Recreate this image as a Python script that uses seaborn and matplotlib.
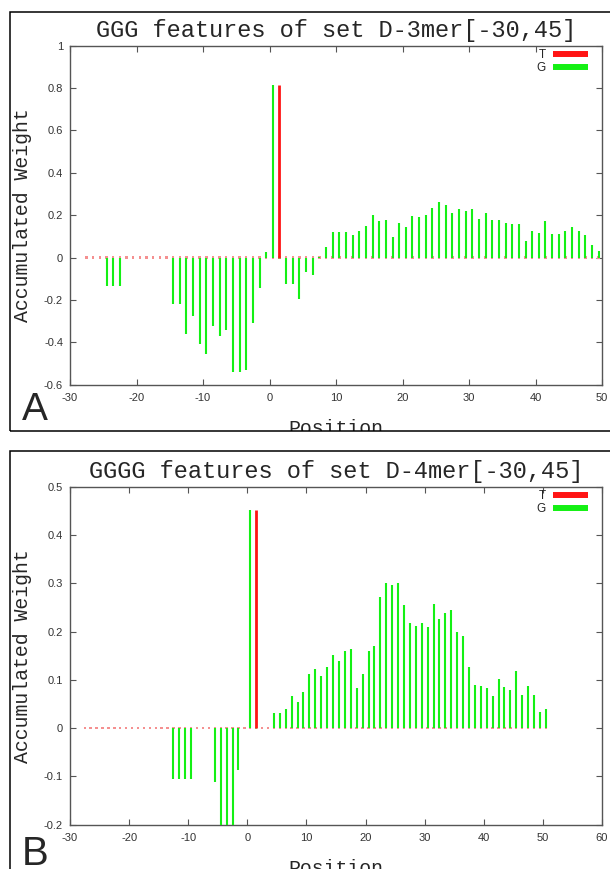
import matplotlib
matplotlib.use("Agg")
import matplotlib.pyplot as plt
import matplotlib.ticker as mticker
from matplotlib.patches import Rectangle
from matplotlib.lines import Line2D
import pandas as pd
import seaborn as sns

sns.set_style("ticks")
plt.rcParams['font.family'] = ['Liberation Sans', 'DejaVu Sans']

# impulse positions (half-integer grid)
pos_a = [-27.5 + i for i in range(78)]   # -27.5 .. 49.5
pos_b = [-27.5 + i for i in range(79)]   # -27.5 .. 50.5

# panel A: GGG, G series
g_a = [
    0, 0, 0, -0.134, -0.134, -0.134,                                        # -27.5 .. -22.5
    0, 0, 0, 0, 0, 0, 0,                                                    # -21.5 .. -15.5
    -0.22, -0.22, -0.363, -0.274, -0.406, -0.456, -0.324, -0.368, -0.343,   # -14.5 .. -6.5
    -0.542, -0.538, -0.531, -0.307, -0.143, 0.025, 0.815, 0,                # -5.5 .. 1.5
    -0.126, -0.126, -0.195, -0.066, -0.082, 0.003, 0.05,                    # 2.5 .. 8.5
    0.121, 0.121, 0.121, 0.105, 0.124, 0.151, 0.2, 0.173, 0.178, 0.099,     # 9.5 .. 18.5
    0.164, 0.142, 0.198, 0.19, 0.2, 0.236, 0.264, 0.25, 0.212, 0.23,        # 19.5 .. 28.5
    0.222, 0.231, 0.182, 0.209, 0.178, 0.175, 0.165, 0.159, 0.16, 0.08,     # 29.5 .. 38.5
    0.127, 0.116, 0.173, 0.11, 0.112, 0.124, 0.146, 0.126, 0.108, 0.06,     # 39.5 .. 48.5
    0.03,                                                                   # 49.5
]
# panel A: T series (only one non-zero value, at 1.5)
t_a = [0.815 if p == 1.5 else 0 for p in pos_a]

# panel B: GGGG, G series
g_b = [
    0, 0, 0, 0, 0, 0, 0, 0, 0, 0, 0, 0, 0, 0, 0,                            # -27.5 .. -13.5
    -0.105, -0.105, -0.105, -0.105,                                         # -12.5 .. -9.5
    0, 0, 0,                                                                # -8.5 .. -6.5
    -0.111, -0.2, -0.2, -0.2, -0.086, 0, 0.451, 0,                          # -5.5 .. 1.5
    0, 0,                                                                   # 2.5, 3.5
    0.032, 0.032, 0.040, 0.066, 0.054,                                      # 4.5 .. 8.5
    0.074, 0.113, 0.122, 0.107, 0.127, 0.151, 0.138, 0.160, 0.164, 0.084,   # 9.5 .. 18.5
    0.112, 0.159, 0.169, 0.271, 0.301, 0.297, 0.301, 0.255, 0.218, 0.212,   # 19.5 .. 28.5
    0.218, 0.209, 0.256, 0.225, 0.238, 0.245, 0.198, 0.190, 0.127, 0.090,   # 29.5 .. 38.5
    0.088, 0.083, 0.067, 0.101, 0.085, 0.078, 0.119, 0.068, 0.087, 0.068,   # 39.5 .. 48.5
    0.034, 0.040,                                                           # 49.5, 50.5
]
t_b = [0.451 if p == 1.5 else 0 for p in pos_b]

xticks_a = [-30, -20, -10, 0, 10, 20, 30, 40, 50]
yticks_a = [-0.6, -0.4, -0.2, 0, 0.2, 0.4, 0.6, 0.8, 1]
xticks_b = [-30, -20, -10, 0, 10, 20, 30, 40, 50, 60]
yticks_b = [-0.2, -0.1, 0, 0.1, 0.2, 0.3, 0.4, 0.5]

RED = '#ff1414'
GREEN = '#14f014'
AXC = '#555555'
W, H = 610, 869


def draw_panel(ax, pos, g, t, title, xticks, yticks):
    df = pd.concat([
        pd.DataFrame({'position': pos, 'weight': g, 'feature': 'G'}),
        pd.DataFrame({'position': pos, 'weight': t, 'feature': 'T'}),
    ])
    # zero-height impulses show up as small dots on the baseline
    zeros = df[df['weight'] == 0]
    sns.scatterplot(data=zeros, x='position', y='weight', hue='feature',
                    palette={'G': '#80f080', 'T': '#f59090'}, marker='s',
                    s=3, linewidth=0, legend=False, ax=ax, zorder=2)
    gg = df[(df['feature'] == 'G') & (df['weight'] != 0)]
    tt = df[(df['feature'] == 'T') & (df['weight'] != 0)]
    ax.vlines(gg['position'], 0, gg['weight'], color=GREEN, lw=1.5, zorder=3)
    ax.vlines(tt['position'], 0, tt['weight'], color=RED, lw=2.0, zorder=3)

    ax.set_xlim(xticks[0], xticks[-1])
    ax.set_ylim(yticks[0], yticks[-1])
    ax.set_xticks(xticks)
    ax.set_yticks(yticks)
    ax.xaxis.set_major_formatter(mticker.FormatStrFormatter('%g'))
    ax.yaxis.set_major_formatter(mticker.FormatStrFormatter('%g'))
    ax.tick_params(direction='in', length=4, width=0.8, color=AXC,
                   labelsize=8, labelcolor='#333333', top=True, right=True)
    ax.tick_params(axis='x', pad=6)
    ax.tick_params(axis='y', pad=5)
    for s in ax.spines.values():
        s.set_color(AXC)
        s.set_linewidth(1.0)
    ax.set_xlabel('')
    ax.set_ylabel('')
    ax.set_title(title, family='Liberation Mono', fontsize=17, pad=6.5)

    handles = [Line2D([], [], color=RED, lw=4.3, solid_capstyle='butt'),
               Line2D([], [], color=GREEN, lw=4.3, solid_capstyle='butt')]
    ax.legend(handles, ['T', 'G'], loc='upper right', bbox_to_anchor=(0.974, 0.99),
              markerfirst=False, frameon=False, fontsize=8.5, handlelength=3.0,
              handletextpad=0.6, labelspacing=0.1, borderpad=0, borderaxespad=0)


fig = plt.figure(figsize=(W / 100, H / 100), dpi=100)

ax_a = fig.add_axes([70 / W, (H - 384.7) / H, 532 / W, 339 / H])
ax_b = fig.add_axes([70 / W, (H - 824.7) / H, 532 / W, 338.1 / H])

draw_panel(ax_a, pos_a, g_a, t_a, 'GGG features of set D-3mer[-30,45]', xticks_a, yticks_a)
draw_panel(ax_b, pos_b, g_b, t_b, 'GGGG features of set D-4mer[-30,45]', xticks_b, yticks_b)

mono = dict(family='Liberation Mono', fontsize=14.3)
for top, bot, base in [(45.7, 384.7, 433.5), (486.6, 824.7, 873.5)]:
    fig.text(23 / W, 1 - (top + bot) / 2 / H, 'Accumulated Weight', rotation=90,
             ha='center', va='center', **mono)
    fig.text(335.5 / W, 1 - base / H, 'Position', ha='center', va='baseline',
             zorder=3, **mono)

fig.text(22 / W, 1 - 420 / H, 'A', fontsize=28, va='baseline', ha='left')
fig.text(22 / W, 1 - 865 / H, 'B', fontsize=29, va='baseline', ha='left')

# white gap between the two panels clips the first "Position" label
fig.add_artist(Rectangle((0, 1 - 450 / H), 1, 19 / H, transform=fig.transFigure,
                         fc='white', ec='none', zorder=5))
fig.add_artist(Rectangle((10 / W, 1 - 430.7 / H), 1, 419 / H, transform=fig.transFigure,
                         fill=False, ec='black', lw=1.1, zorder=6))
fig.add_artist(Rectangle((10 / W, -0.05), 1, 0.05 + 1 - 451 / H, transform=fig.transFigure,
                         fill=False, ec='black', lw=1.1, zorder=6))

fig.savefig('out.png', dpi=100)
